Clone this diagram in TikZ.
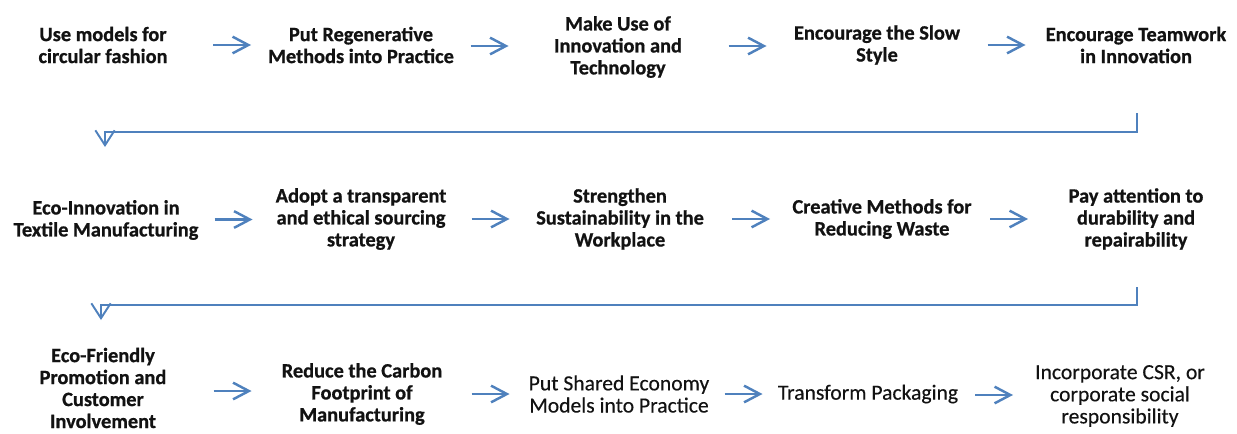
\documentclass[tikz,border=0pt]{standalone}
\usepackage{fontspec}
\setmainfont{Carlito}[BoldFeatures={FakeBold=0.8},UprightFeatures={FakeBold=0.3}]
\usetikzlibrary{arrows.meta,calc}
\definecolor{flowblue}{RGB}{79,129,189}
\definecolor{inkgray}{RGB}{18,18,18}

\begin{document}
\begin{tikzpicture}[
    stage/.style={align=center, text=inkgray, inner sep=0pt,
        font=\bfseries\fontsize{11.6}{12.5}\selectfont},
    stagelight/.style={stage, font=\mdseries\fontsize{12.3}{12.6}\selectfont},
    flow/.style={flowblue, line width=1.4pt, -{Straight Barb[length=9pt,width=9.5pt]}},
    wrap/.style={flowblue, line width=1.1pt, -{Straight Barb[length=8.5pt,width=11pt]}}
]
    \useasboundingbox (0,0) rectangle (24.74,-8.66);

    % first row
    \node[stage] (circ) at (2.06,-0.90) {Use models for\\circular fashion};
    \node[stage] (regen) at (7.22,-0.90) {Put Regenerative\\Methods into Practice};
    \node[stage] (innov) at (12.36,-0.94) {Make Use of\\Innovation and\\Technology};
    \node[stage] (slow) at (17.54,-0.90) {Encourage the Slow\\Style};
    \node[stage] (team) at (22.72,-0.90) {Encourage Teamwork\\in Innovation};

    % second row
    \node[stage] (ecoinn) at (2.12,-4.40) {Eco-Innovation in\\Textile Manufacturing};
    \node[stage] (source) at (7.22,-4.38) {Adopt a transparent\\and ethical sourcing\\strategy};
    \node[stage] (workplace) at (12.40,-4.38) {Strengthen\\Sustainability in the\\Workplace};
    \node[stage] (waste) at (17.64,-4.38) {Creative Methods for\\Reducing Waste};
    \node[stage] (repair) at (22.72,-4.38) {Pay attention to\\durability and\\repairability};

    % third row
    \node[stage] (promo) at (2.06,-7.76) {Eco-Friendly\\Promotion and\\Customer\\Involvement};
    \node[stage] (carbon) at (7.24,-7.88) {Reduce the Carbon\\Footprint of\\Manufacturing};
    \node[stagelight] (shared) at (12.38,-7.88) {Put Shared Economy\\Models into Practice};
    \node[stagelight] (pack) at (17.36,-7.88) {Transform Packaging};
    \node[stagelight] (csr) at (22.40,-7.92) {Incorporate CSR, or\\corporate social\\responsibility};

    % short arrows between neighbours
    \foreach \a/\b in {circ/regen, regen/innov, innov/slow, slow/team,
                       ecoinn/source, source/workplace, workplace/waste, waste/repair,
                       promo/carbon, carbon/shared, shared/pack, pack/csr}
        \draw[flow] ($(\a)!0.5!(\b)$) ++(-0.38,0) -- ++(0.76,0);

    % return lines to the next row
    \coordinate (drop1) at (22.74,-2.26);
    \coordinate (land1) at (2.10,-2.64);
    \draw[wrap] (drop1) |- (land1) -- ++(0,-0.30);

    \coordinate (drop2) at (22.74,-5.74);
    \coordinate (land2) at (2.02,-6.10);
    \draw[wrap] (drop2) |- (land2) -- ++(0,-0.30);
\end{tikzpicture}
\end{document}
